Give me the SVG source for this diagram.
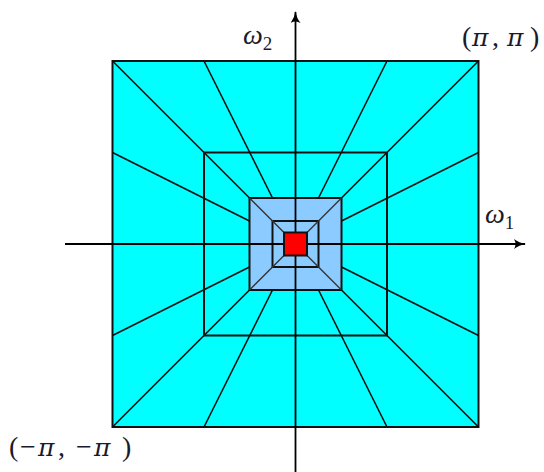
<svg xmlns="http://www.w3.org/2000/svg" width="544" height="472" viewBox="0 0 544 472">
<style>
.sq{stroke:#111;stroke-width:2;stroke-linejoin:miter}
.ln{stroke:#111;stroke-width:1.6;fill:none}
.in{stroke:#333;stroke-width:1.3;fill:none}
.ax{stroke:#000;stroke-width:1.8;fill:none}
.lbl{font-family:"Liberation Serif","DejaVu Serif",serif;font-size:28px;fill:#1a1a2a}
.it{font-style:italic}
.pi{font-family:"DejaVu Serif","Liberation Serif",serif;font-style:italic;font-size:25px}
</style>
<defs>
<marker id="arr" viewBox="0 0 12 10" refX="11" refY="5" markerWidth="12" markerHeight="10" markerUnits="userSpaceOnUse" orient="auto">
<path d="M0,0 Q5,4 12,5 Q5,6 0,10 Q3,5 0,0 Z" fill="#000"/>
</marker>
</defs>
<g id="outer"><rect class="sq" x="112.5" y="61" width="366" height="366" fill="#00ffff"/></g>
<g id="middle"><rect class="sq" x="204" y="152.5" width="183" height="183" fill="#00ffff"/></g>
<g id="lightblue"><rect class="sq" x="249.5" y="198" width="92" height="92" fill="#8ccbff"/></g>
<g id="small"><rect class="sq" x="272.5" y="221" width="46" height="46" fill="#8ccbff"/></g>
<g id="connectors">
<path class="ln" d="M249.5,198 L112.5,61 M341.5,198 L478.5,61 M249.5,290 L112.5,427 M341.5,290 L478.5,427"/>
<path class="ln" d="M272.5,198 L204,61 M318.5,198 L387,61 M272.5,290 L204,427 M318.5,290 L387,427"/>
<path class="ln" d="M249.5,221 L112.5,152.5 M249.5,267 L112.5,335.5 M341.5,221 L478.5,152.5 M341.5,267 L478.5,335.5"/>
<path class="in" d="M284,232.5 L249.5,198 M307,232.5 L341.5,198 M284,255.5 L249.5,290 M307,255.5 L341.5,290"/>
</g>
<g id="axes">
<line class="ax" x1="65" y1="244" x2="525" y2="244" marker-end="url(#arr)"/>
<line class="ax" x1="295.5" y1="472" x2="295.5" y2="12" marker-end="url(#arr)"/>
</g>
<g id="red"><rect class="sq" x="284" y="232.5" width="23" height="23" fill="#ff0000"/></g>
<g id="labels">
<text class="lbl" x="243" y="44"><tspan class="it">ω</tspan><tspan font-size="19" dy="6">2</tspan></text>
<text class="lbl" x="485" y="223"><tspan class="it">ω</tspan><tspan font-size="19" dy="6">1</tspan></text>
<text class="lbl" y="46"><tspan x="462">(</tspan><tspan class="pi" x="472">π</tspan><tspan x="492">,</tspan><tspan class="pi" x="507">π</tspan><tspan x="530">)</tspan></text>
<text class="lbl" y="456"><tspan x="9">(</tspan><tspan x="20">−</tspan><tspan class="pi" x="38">π</tspan><tspan x="58">,</tspan><tspan x="76">−</tspan><tspan class="pi" x="94">π</tspan><tspan x="122">)</tspan></text>
</g>
</svg>
